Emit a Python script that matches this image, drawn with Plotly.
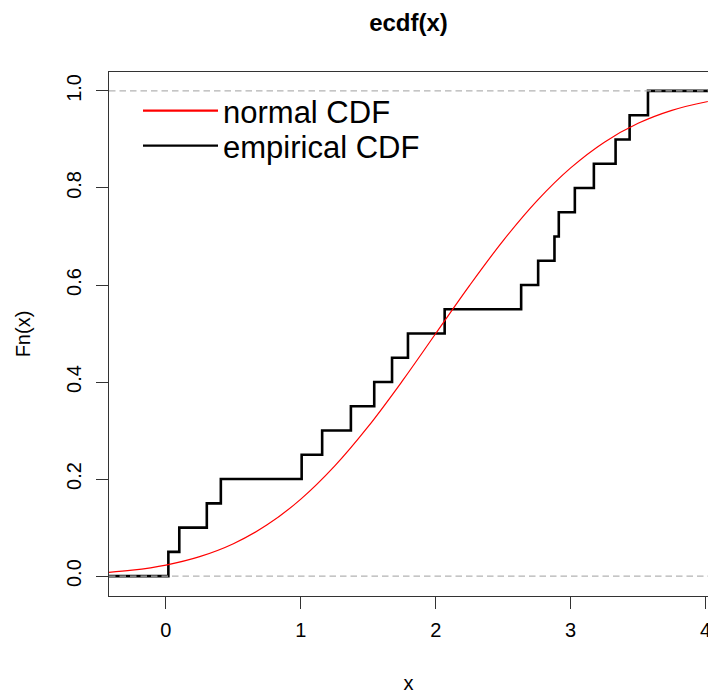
import plotly.graph_objects as go

# ---- data ----
jump_x = [0.018, 0.099, 0.303, 0.407, 1.006, 1.158, 1.371, 1.544, 1.676, 1.794,
          2.066, 2.633, 2.759, 2.880, 2.912, 3.031, 3.172, 3.333, 3.437, 3.573]
ecdf_levels = [0.05, 0.10, 0.15, 0.20, 0.25, 0.30, 0.35, 0.40, 0.45, 0.50,
               0.55, 0.60, 0.65, 0.70, 0.75, 0.80, 0.85, 0.90, 0.95, 1.00]
ecdf_start = 0.0

norm_x = [-0.5, -0.25, 0.0, 0.25, 0.5, 0.75, 1.0, 1.25, 1.5, 1.75, 2.0,
          2.25, 2.5, 2.75, 3.0, 3.25, 3.5, 3.75, 4.0, 4.25]
norm_cdf = [0.0062, 0.0122, 0.0228, 0.0401, 0.0668, 0.1056, 0.1587, 0.2266,
            0.3085, 0.4013, 0.5000, 0.5987, 0.6915, 0.7734, 0.8413, 0.8944,
            0.9332, 0.9599, 0.9772, 0.9878]

x_ticks = [0, 1, 2, 3, 4]
y_ticks = [0.0, 0.2, 0.4, 0.6, 0.8, 1.0]
y_tick_labels = ["0.0", "0.2", "0.4", "0.6", "0.8", "1.0"]
ref_levels = [0.0, 1.0]

x_range = [-0.422, 4.018]
y_range = [-0.041, 1.039]

FONT = "Liberation Sans, Arial, sans-serif"
AXCOL = "#333333"

fig = go.Figure()

# empirical CDF step function (extends past the plot edges)
fig.add_trace(go.Scatter(
    x=[x_range[0] - 0.3] + jump_x + [x_range[1] + 0.3],
    y=[ecdf_start] + ecdf_levels + [ecdf_levels[-1]],
    mode="lines", line=dict(color="black", width=2.6, shape="hv"),
    showlegend=False, hoverinfo="skip", cliponaxis=True))

# normal CDF curve
fig.add_trace(go.Scatter(
    x=norm_x, y=norm_cdf, mode="lines",
    line=dict(color="red", width=1.2, shape="spline", smoothing=1.0),
    showlegend=False, hoverinfo="skip"))

# legend entries
fig.add_trace(go.Scatter(x=[None], y=[None], mode="lines",
                         line=dict(color="red", width=2.2),
                         name="normal CDF", legend="legend"))
fig.add_trace(go.Scatter(x=[None], y=[None], mode="lines",
                         line=dict(color="black", width=2.2),
                         name="empirical CDF", legend="legend2"))

for lv in ref_levels:
    fig.add_shape(type="line", xref="paper", x0=0, x1=1, yref="y", y0=lv, y1=lv,
                  line=dict(color="#b3b3b3", width=1.2, dash="6.5px,4px"),
                  layer="above")

legend_common = dict(xanchor="left", yanchor="top", bgcolor="rgba(0,0,0,0)",
                     borderwidth=0, itemwidth=75,
                     font=dict(family=FONT, size=31, color="black"))

LEG_LEFT = 138
PLOT_L, PLOT_W, PLOT_T, PLOT_H = 109, 599, 72, 524

fig.update_layout(
    width=708, height=694,
    margin=dict(l=PLOT_L, r=708 - PLOT_L - PLOT_W, t=PLOT_T, b=694 - PLOT_T - PLOT_H),
    paper_bgcolor="white", plot_bgcolor="white",
    font=dict(family=FONT, size=20, color="black"),
    title=dict(text="ecdf(x)", x=0.5, xref="paper", xanchor="center",
               y=1 - 23 / 694, yref="container", yanchor="middle",
               font=dict(family=FONT, size=24, color="black", weight="bold")),
    xaxis=dict(range=x_range, tickvals=x_ticks, ticks="outside", ticklen=12,
               tickwidth=1.3, tickcolor=AXCOL, showline=True, mirror=True,
               linecolor=AXCOL, linewidth=1.3, showgrid=False, zeroline=False,
               ticklabelstandoff=4, ticklabeloverflow="allow", automargin=False,
               title=dict(text="x", standoff=37, font=dict(size=20))),
    yaxis=dict(range=y_range, tickvals=y_ticks, ticktext=y_tick_labels,
               ticks="outside", ticklen=12, tickwidth=1.3, tickcolor=AXCOL,
               showline=True, mirror=True, linecolor=AXCOL, linewidth=1.3,
               showgrid=False, zeroline=False, tickangle=-90,
               ticklabelstandoff=7, ticklabeloverflow="allow", automargin=False,
               title=dict(text="Fn(x)", standoff=26, font=dict(size=20))),
    legend=dict(x=(LEG_LEFT - PLOT_L) / PLOT_W, y=1 - (84 - PLOT_T) / PLOT_H,
                **legend_common),
    legend2=dict(x=(LEG_LEFT - PLOT_L) / PLOT_W, y=1 - (119 - PLOT_T) / PLOT_H,
                 **legend_common),
)

fig.write_html("out.html",
               config={"displayModeBar": False},
               post_script="document.body.style.margin='0';"
                           "document.body.style.overflow='hidden';")
